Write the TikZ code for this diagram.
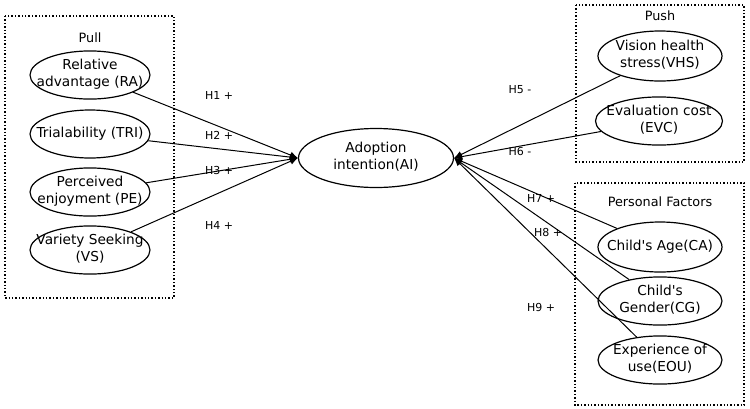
\documentclass[tikz,border=0pt]{standalone}
\usepackage{fontspec}
\setmainfont{DejaVu Sans}
\usetikzlibrary{arrows.meta, shapes.geometric}

\newcommand{\ftext}[1]{\makebox[0pt]{\begin{tabular}{@{}c@{}}#1\end{tabular}}}

\begin{document}
\begin{tikzpicture}[x=1pt, y=-1pt,
  factor/.style={draw, ellipse, line width=1.2pt, inner sep=0pt,
    minimum width=120pt, minimum height=48pt, font=\fontsize{13.7}{17}\selectfont},
  group/.style={dotted, line width=1.4pt},
  grouplabel/.style={font=\fontsize{12.8}{15}\selectfont},
  hyp/.style={-{Latex[length=8pt,width=7pt]}, line width=1pt},
  hlabel/.style={font=\fontsize{11}{13}\selectfont}]

\useasboundingbox (0,0) rectangle (750,408);

% Pull group
\draw[group] (5,16) rectangle (174,298);
\node[grouplabel] (pull) at (90,38) {Pull};
\node[factor] (ra) at (90,75) {\ftext{Relative\\advantage (RA)}};
\node[factor] (tri) at (90,134) {\ftext{Trialability (TRI)}};
\node[factor] (pe) at (90,192) {\ftext{Perceived\\enjoyment (PE)}};
\node[factor] (vs) at (90,250) {\ftext{Variety Seeking\\(VS)}};

% Push group
\draw[group] (576,5) rectangle (744,162);
\node[grouplabel] (push) at (660,16) {Push};
\node[factor, minimum width=124pt, minimum height=50pt] (vhs) at (660,56) {\ftext{Vision health\\stress(VHS)}};
\node[factor, minimum width=127pt, minimum height=46pt] (evc) at (659,121) {\ftext{Evaluation cost\\(EVC)}};

% Personal factors group
\draw[group] (575,183) rectangle (744,405);
\node[grouplabel] (pers) at (660,202) {Personal Factors};
\node[factor, minimum width=124pt, minimum height=50pt] (ca) at (660,247) {\ftext{Child\textquotesingle s Age(CA)}};
\node[factor, minimum width=124pt, minimum height=47pt] (cg) at (660,301) {\ftext{Child\textquotesingle s\\Gender(CG)}};
\node[factor, minimum width=124pt, minimum height=47pt] (eou) at (660,360) {\ftext{Experience of\\use(EOU)}};

% Adoption intention
\node[factor, minimum width=155pt, minimum height=59pt] (ai) at (376,158) {\ftext{Adoption\\intention(AI)}};

% Hypotheses
\foreach \src in {ra, tri, pe, vs}
  \draw[hyp] (\src) -- (ai.west);
\foreach \src in {vhs, evc, ca, cg, eou}
  \draw[hyp] (\src) -- (ai.east);

\node[hlabel] (h1) at (219,95) {H1 +};
\node[hlabel] (h2) at (219,135) {H2 +};
\node[hlabel] (h3) at (219,170) {H3 +};
\node[hlabel] (h4) at (219,225) {H4 +};
\node[hlabel] (h5) at (520,90) {H5 -};
\node[hlabel] (h6) at (520,151) {H6 -};
\node[hlabel] (h7) at (541,198) {H7 +};
\node[hlabel] (h8) at (548,232) {H8 +};
\node[hlabel] (h9) at (541,307) {H9 +};
\end{tikzpicture}
\end{document}
